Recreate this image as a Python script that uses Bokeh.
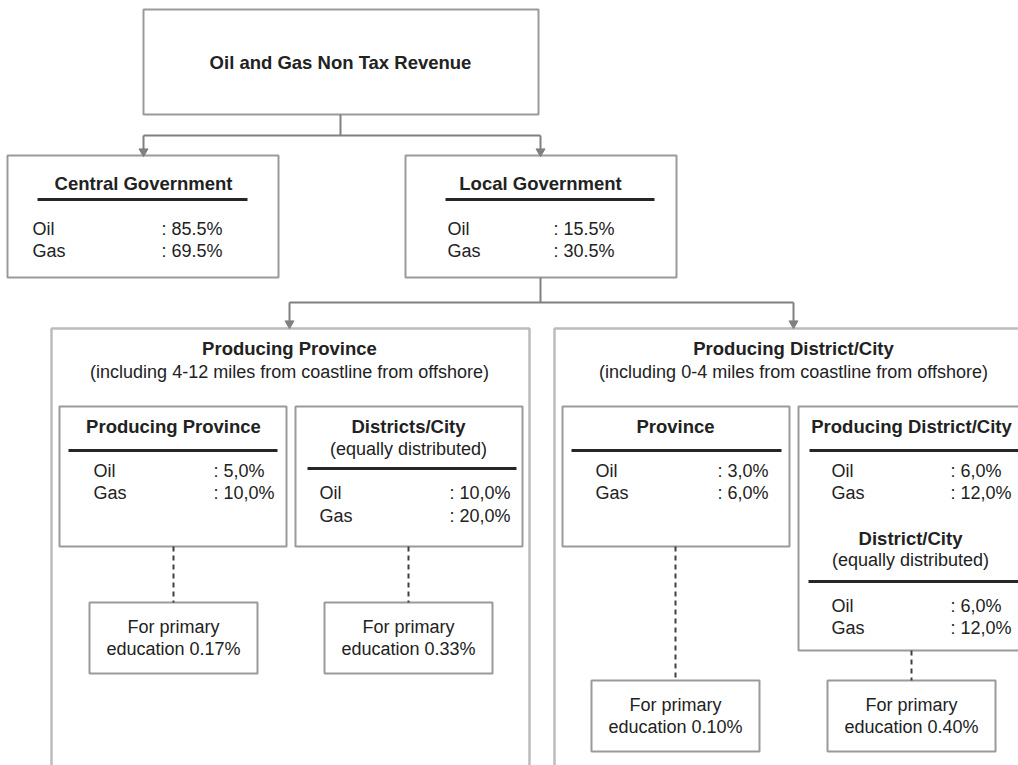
from bokeh.plotting import figure
from bokeh.models import Range1d
from bokeh.core.properties import value
from bokeh.embed import file_html
from bokeh.resources import INLINE

# ---------------- data (text content) ----------------
root_label = "Oil and Gas Non Tax Revenue"
row_labels = ["Oil", "Gas"]
gov_names = ["Central Government", "Local Government"]
gov_oil = ["85.5%", "15.5%"]
gov_gas = ["69.5%", "30.5%"]
region_names = ["Producing Province", "Producing District/City"]
region_notes = ["(including 4-12 miles from coastline from offshore)",
                "(including 0-4 miles from coastline from offshore)"]
share_names = ["Producing Province", "Districts/City", "Province",
               "Producing District/City", "District/City"]
share_notes = ["", "(equally distributed)", "", "", "(equally distributed)"]
share_oil = ["5,0%", "10,0%", "3,0%", "6,0%", "6,0%"]
share_gas = ["10,0%", "20,0%", "6,0%", "12,0%", "12,0%"]
edu_first = "For primary"
edu_prefix = "education"
edu_share = ["0.17%", "0.33%", "0.10%", "0.40%"]

# ---------------- layout (page pixel coordinates) ----------------
root_box = (143, 538, 9, 114)
root_text = (340, 62)
gov_boxes = [(7, 278, 155, 277), (405, 676, 155, 277)]
gov_cx = [143, 540]
gov_ul = [(37, 247), (445, 654)]
gov_lx = [32, 447]
gov_vx = [161, 553]
gov_ty, gov_uly, gov_rows = 183, 199, (228, 250)

region_boxes = [(51, 529, 328, 800), (554, 1040, 328, 800)]
region_cx = [289, 793]
region_ty, region_ny = 348, 371

share_boxes = [(59, 286, 406, 546), (295, 522, 406, 546),
               (562, 789, 406, 546), (798, 1040, 406, 650)]
share_layout = [  # cx, title y, note y, ul x0, ul x1, ul y, label x, value x, rows
    (173, 426, None, 68, 277, 450, 93, 213, (470, 492)),
    (408, 426, 448, 307, 516, 468, 319, 449, (492, 515)),
    (675, 426, None, 571, 781, 450, 595, 717, (470, 492)),
    (911, 426, None, 809, 1040, 450, 831, 950, (470, 492)),
    (910, 538, 559, 808, 1040, 581, 831, 950, (605, 627)),
]

edu_boxes = [(89, 257, 602, 673), (324, 492, 602, 673),
             (591, 759, 680, 751), (827, 995, 680, 751)]
edu_cx = [173, 408, 675, 911]
edu_dash_top = [546, 546, 546, 650]

connectors = [
    ([340, 340], [114, 135]),
    ([143, 540], [135, 135]),
    ([143, 143], [135, 150]),
    ([540, 540], [135, 150]),
    ([540, 540], [277, 302]),
    ([289, 793], [302, 302]),
    ([289, 289], [302, 322]),
    ([793, 793], [302, 322]),
]
arrow_pts = [(143, 151), (540, 151), (289, 323), (793, 323)]

# ---------------- styles ----------------
FONT = value("Liberation Sans")
TXT = "#222222"
BOX = "#9a9a9a"
BIG = "#bcbcbc"
CON = "#808080"
UL = "#262626"
BOLD_SIZE = "18.5px"
REG_SIZE = "18px"

p = figure(width=1018, height=765, output_backend="svg", toolbar_location=None,
           x_range=Range1d(0, 1018), y_range=Range1d(765, 0),
           x_axis_location=None, y_axis_location=None, min_border=0)
p.grid.visible = False
p.outline_line_color = None
p.background_fill_color = "white"
p.border_fill_color = "white"


def boxes(lst, color, width):
    p.quad(left=[b[0] for b in lst], right=[b[1] for b in lst],
           top=[b[2] for b in lst], bottom=[b[3] for b in lst],
           fill_color="white", line_color=color, line_width=width)


bold_x, bold_y, bold_t = [], [], []
reg_c_x, reg_c_y, reg_c_t = [], [], []
reg_l_x, reg_l_y, reg_l_t = [], [], []
ul_xs, ul_ys = [], []

# root
bold_x.append(root_text[0]); bold_y.append(root_text[1]); bold_t.append(root_label)

# governments
gov_vals = [gov_oil, gov_gas]
for i, name in enumerate(gov_names):
    bold_x.append(gov_cx[i]); bold_y.append(gov_ty); bold_t.append(name)
    ul_xs.append(list(gov_ul[i])); ul_ys.append([gov_uly, gov_uly])
    for r, lab in enumerate(row_labels):
        reg_l_x.append(gov_lx[i]); reg_l_y.append(gov_rows[r]); reg_l_t.append(lab)
        reg_l_x.append(gov_vx[i]); reg_l_y.append(gov_rows[r]); reg_l_t.append(": " + gov_vals[r][i])

# regions
for i, name in enumerate(region_names):
    bold_x.append(region_cx[i]); bold_y.append(region_ty); bold_t.append(name)
    reg_c_x.append(region_cx[i]); reg_c_y.append(region_ny); reg_c_t.append(region_notes[i])

# shares
share_vals = [share_oil, share_gas]
for i, name in enumerate(share_names):
    cx, ty, ny, u0, u1, uy, lx, vx, rows = share_layout[i]
    bold_x.append(cx); bold_y.append(ty); bold_t.append(name)
    if share_notes[i]:
        reg_c_x.append(cx); reg_c_y.append(ny); reg_c_t.append(share_notes[i])
    ul_xs.append([u0, u1]); ul_ys.append([uy, uy])
    for r, lab in enumerate(row_labels):
        reg_l_x.append(lx); reg_l_y.append(rows[r]); reg_l_t.append(lab)
        reg_l_x.append(vx); reg_l_y.append(rows[r]); reg_l_t.append(": " + share_vals[r][i])

# education
dash_xs, dash_ys = [], []
for i, share in enumerate(edu_share):
    l, r, t, b = edu_boxes[i]
    mid = (t + b) / 2
    reg_c_x += [edu_cx[i], edu_cx[i]]
    reg_c_y += [mid - 11, mid + 11]
    reg_c_t += [edu_first, edu_prefix + " " + share]
    dash_xs.append([edu_cx[i], edu_cx[i]]); dash_ys.append([edu_dash_top[i], t])

# ---- draw ----
boxes(region_boxes, BIG, 2.5)
boxes([root_box], BOX, 2)
boxes(gov_boxes, BOX, 2)
boxes(share_boxes, BOX, 2)
boxes(edu_boxes, BOX, 2)

p.multi_line(xs=[c[0] for c in connectors], ys=[c[1] for c in connectors],
             line_color=CON, line_width=2)
p.scatter(x=[a[0] for a in arrow_pts], y=[a[1] for a in arrow_pts],
          marker="inverted_triangle", size=9, fill_color=CON, line_color=CON)
p.multi_line(xs=dash_xs, ys=dash_ys, line_color="#404040", line_width=2, line_dash="5 4")
p.multi_line(xs=ul_xs, ys=ul_ys, line_color=UL, line_width=3)

p.text(x=bold_x, y=bold_y, text=bold_t, text_font=FONT, text_font_style="bold",
       text_font_size=BOLD_SIZE, text_align="center", text_baseline="middle",
       text_color=TXT)
p.text(x=reg_c_x, y=reg_c_y, text=reg_c_t, text_font=FONT,
       text_font_size=REG_SIZE, text_align="center", text_baseline="middle",
       text_color=TXT)
p.text(x=reg_l_x, y=reg_l_y, text=reg_l_t, text_font=FONT,
       text_font_size=REG_SIZE, text_align="left", text_baseline="middle",
       text_color=TXT)

open("out.html", "w").write(file_html(p, INLINE))
